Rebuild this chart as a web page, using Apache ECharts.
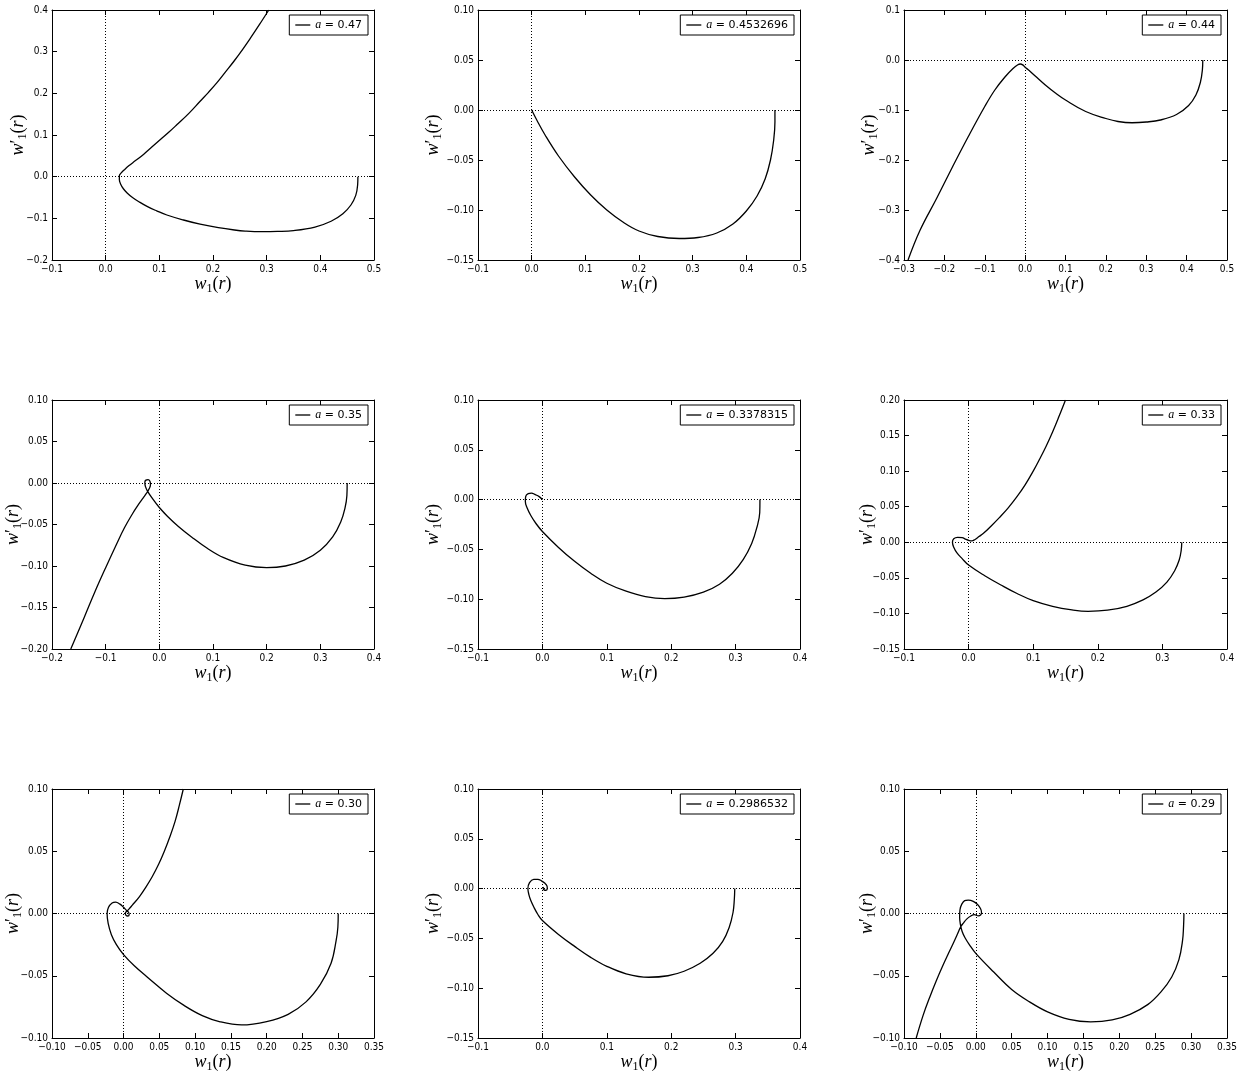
<!DOCTYPE html>
<html>
<head>
<meta charset="utf-8">
<title>w1 phase portraits</title>
<script src="https://cdn.jsdelivr.net/npm/echarts@6/dist/echarts.min.js"></script>
<style>
  html, body { margin: 0; padding: 0; background: #fff; }
  #chart { width: 1239px; height: 1072px; }
</style>
</head>
<body>
<div id="chart"></div>
<script>
// values of a shown in each legend
var aLabels = ['0.47', '0.4532696', '0.44', '0.35', '0.3378315', '0.33', '0.30', '0.2986532', '0.29'];

// axis ranges [min, max, step]
var xRanges = [
    [-0.1, 0.5, 0.1], [-0.1, 0.5, 0.1], [-0.3, 0.5, 0.1],
    [-0.2, 0.4, 0.1], [-0.1, 0.4, 0.1], [-0.1, 0.4, 0.1],
    [-0.1, 0.35, 0.05], [-0.1, 0.4, 0.1], [-0.1, 0.35, 0.05]
];
var yRanges = [
    [-0.2, 0.4, 0.1], [-0.15, 0.1, 0.05], [-0.4, 0.1, 0.1],
    [-0.2, 0.1, 0.05], [-0.15, 0.1, 0.05], [-0.15, 0.2, 0.05],
    [-0.1, 0.1, 0.05], [-0.15, 0.1, 0.05], [-0.1, 0.1, 0.05]
];

// traced curves, points are [w1, w1']
var curve047 = [
    [0.47, 0], [0.4695, -0.02], [0.466, -0.045], [0.457, -0.068], [0.442, -0.089], [0.42, -0.107],
    [0.39, -0.121], [0.35, -0.1295], [0.32, -0.1315], [0.29, -0.132], [0.26, -0.1305], [0.24, -0.128],
    [0.21, -0.1225], [0.176, -0.114], [0.145, -0.104], [0.114, -0.092], [0.095, -0.082], [0.078, -0.072],
    [0.063, -0.061], [0.05, -0.05], [0.04, -0.039], [0.033, -0.029], [0.028, -0.018], [0.0255, -0.007],
    [0.0255, 0.002], [0.029, 0.009], [0.036, 0.018], [0.043, 0.026], [0.055, 0.038], [0.071, 0.054],
    [0.086, 0.071], [0.102, 0.089], [0.118, 0.107], [0.133, 0.125], [0.155, 0.152], [0.176, 0.181],
    [0.192, 0.203], [0.207, 0.225], [0.223, 0.251], [0.239, 0.277], [0.255, 0.305], [0.27, 0.333],
    [0.287, 0.366], [0.304, 0.4]
];
var curve04532696 = [
    [0.4533, 0], [0.4533, -0.012], [0.451, -0.03], [0.445, -0.05], [0.435, -0.069], [0.42, -0.086],
    [0.4, -0.101], [0.375, -0.114], [0.345, -0.123], [0.31, -0.1275], [0.275, -0.1285], [0.235, -0.1265],
    [0.2, -0.121], [0.17, -0.112], [0.14, -0.1], [0.11, -0.085], [0.08, -0.067], [0.05, -0.046],
    [0.025, -0.025], [0.01, -0.0105], [0, 0]
];
var curve044 = [
    [0.44, 0], [0.439, -0.02], [0.434, -0.045], [0.423, -0.07], [0.405, -0.091], [0.375, -0.109],
    [0.335, -0.12], [0.3, -0.124], [0.265, -0.1255], [0.23, -0.123], [0.2, -0.117], [0.15, -0.103],
    [0.1, -0.08], [0.075, -0.066], [0.05, -0.05], [0.025, -0.032], [0.01, -0.021], [0.0, -0.0145],
    [-0.006, -0.0098], [-0.012, -0.008], [-0.018, -0.0095], [-0.03, -0.017], [-0.05, -0.034], [-0.075, -0.06],
    [-0.1, -0.093], [-0.14, -0.152], [-0.18, -0.214], [-0.22, -0.278], [-0.26, -0.34], [-0.29, -0.4]
];
var curve035 = [
    [0.35, 0], [0.3495, -0.015], [0.346, -0.03], [0.338, -0.047], [0.323, -0.065], [0.3, -0.081],
    [0.27, -0.093], [0.235, -0.1], [0.2, -0.102], [0.16, -0.099], [0.12, -0.09], [0.09, -0.079],
    [0.06, -0.065], [0.035, -0.052], [0.015, -0.04], [0.0, -0.0295], [-0.012, -0.0195], [-0.0218, -0.01],
    [-0.026, -0.004], [-0.027, 0.001], [-0.025, 0.0035], [-0.021, 0.004], [-0.0175, 0.002],
    [-0.0165, -0.002], [-0.019, -0.007], [-0.0235, -0.012], [-0.03, -0.018], [-0.04, -0.027], [-0.05, -0.037],
    [-0.065, -0.054], [-0.08, -0.074], [-0.1, -0.102], [-0.12, -0.131], [-0.14, -0.162], [-0.165, -0.2]
];
var curve03378315 = [
    [0.3378, 0], [0.3375, -0.013], [0.333, -0.028], [0.325, -0.044], [0.312, -0.06], [0.295, -0.074],
    [0.275, -0.085], [0.25, -0.093], [0.22, -0.098], [0.19, -0.0995], [0.16, -0.0975], [0.13, -0.092],
    [0.1, -0.084], [0.075, -0.074], [0.05, -0.062], [0.025, -0.048], [0.0, -0.032], [-0.01, -0.024],
    [-0.018, -0.016], [-0.024, -0.008], [-0.0265, -0.002], [-0.026, 0.003], [-0.022, 0.006], [-0.017, 0.0065],
    [-0.011, 0.005], [-0.005, 0.003], [0, 0]
];
var curve033 = [
    [0.33, 0], [0.329, -0.012], [0.326, -0.025], [0.319, -0.04], [0.307, -0.056], [0.29, -0.07],
    [0.27, -0.081], [0.245, -0.09], [0.215, -0.0955], [0.185, -0.097], [0.16, -0.095], [0.13, -0.09],
    [0.1, -0.082], [0.075, -0.072], [0.05, -0.06], [0.025, -0.047], [0.0, -0.032], [-0.01, -0.023],
    [-0.018, -0.015], [-0.023, -0.007], [-0.025, 0.0], [-0.023, 0.005], [-0.017, 0.007], [-0.01, 0.0065],
    [-0.004, 0.004], [0.001, 0.0025], [0.005, 0.002], [0.01, 0.004], [0.016, 0.008], [0.023, 0.0126],
    [0.035, 0.023], [0.048, 0.035], [0.061, 0.048], [0.074, 0.063], [0.087, 0.08], [0.1, 0.1],
    [0.11, 0.117], [0.12, 0.135], [0.13, 0.155], [0.14, 0.177], [0.15, 0.2]
];
var curve030 = [
    [0.3, 0], [0.2995, -0.011], [0.297, -0.022], [0.29, -0.04], [0.275, -0.057], [0.255, -0.071],
    [0.23, -0.081], [0.2, -0.0868], [0.165, -0.0895], [0.135, -0.087], [0.11, -0.082], [0.085, -0.074],
    [0.06, -0.064], [0.035, -0.052], [0.015, -0.042], [0.0, -0.033], [-0.01, -0.025], [-0.017, -0.017],
    [-0.0215, -0.008], [-0.023, 0.0], [-0.021, 0.005], [-0.016, 0.0085], [-0.011, 0.0092], [-0.005, 0.0075],
    [0.0, 0.005], [0.004, 0.0025], [0.007, 0.001], [0.0078, -0.001], [0.0058, -0.002], [0.0035, -0.0015],
    [0.0025, 0.0003], [0.0045, 0.0018], [0.0075, 0.0035], [0.012, 0.0065], [0.022, 0.0134], [0.031, 0.021],
    [0.04, 0.0295], [0.049, 0.0395], [0.057, 0.05], [0.065, 0.062], [0.072, 0.074], [0.078, 0.087],
    [0.0835, 0.1]
];
var curve02986532 = [
    [0.2987, 0], [0.298, -0.011], [0.296, -0.024], [0.29, -0.039], [0.28, -0.053], [0.265, -0.065],
    [0.245, -0.075], [0.22, -0.083], [0.195, -0.0875], [0.165, -0.089], [0.13, -0.0855], [0.1, -0.078],
    [0.075, -0.069], [0.05, -0.058], [0.025, -0.046], [0.0, -0.032], [-0.007, -0.026], [-0.013, -0.019],
    [-0.018, -0.012], [-0.021, -0.006], [-0.0225, 0.0], [-0.02, 0.006], [-0.0135, 0.0093], [-0.007, 0.0093],
    [-0.0015, 0.0078], [0.004, 0.0053], [0.0072, 0.0025], [0.0076, 0.0], [0.0056, -0.0017], [0.0025, -0.0013],
    [0.0012, 0.0003], [0.002, 0.0015]
];
var curve029 = [
    [0.29, 0], [0.2895, -0.01], [0.288, -0.022], [0.283, -0.037], [0.273, -0.051], [0.258, -0.063],
    [0.24, -0.073], [0.215, -0.081], [0.19, -0.0855], [0.16, -0.087], [0.13, -0.085], [0.1, -0.079],
    [0.075, -0.071], [0.05, -0.061], [0.025, -0.047], [0.0, -0.032], [-0.009, -0.025], [-0.015, -0.0195],
    [-0.019, -0.0145], [-0.0215, -0.0085], [-0.0225, -0.003], [-0.022, 0.003], [-0.0195, 0.0075], [-0.0155, 0.0103],
    [-0.0105, 0.0108], [-0.0035, 0.0098], [0.0025, 0.0072], [0.0065, 0.004], [0.008, 0.001], [0.007, -0.001],
    [0.0035, -0.0019], [-0.002, -0.0009], [-0.007, -0.002], [-0.0127, -0.0045], [-0.017, -0.0075], [-0.021, -0.0106],
    [-0.0255, -0.0165], [-0.031, -0.0235], [-0.038, -0.032], [-0.046, -0.042], [-0.055, -0.054], [-0.064, -0.067],
    [-0.0735, -0.082], [-0.083, -0.1]
];

var curves = [curve047, curve04532696, curve044, curve035, curve03378315, curve033, curve030, curve02986532, curve029];

// plot boxes [left, top, width, height] and where the y title sits
var boxes = [
    [52, 10, 322, 250], [478, 10, 322, 250], [904, 10, 323, 250],
    [52, 400, 322, 249], [478, 400, 322, 249], [904, 400, 323, 249],
    [52, 789, 322, 249], [478, 789, 322, 249], [904, 789, 323, 249]
];
var yNameX = [18, 433, 869, 13, 433, 867, 13, 433, 867];

var W = 1239;
var serif = 'Liberation Serif';
var sans = '"DejaVu Sans Condensed", "Liberation Sans Narrow", "DejaVu Sans"';

function decimals(step) {
    return step < 0.1 - 1e-9 ? 2 : 1;
}
function fmt(d) {
    return function (v) {
        var s = v.toFixed(d);
        if (Math.abs(parseFloat(s)) === 0) s = (0).toFixed(d);
        return s.replace('-', '\u2212');
    };
}

var nameRich = {
    it: { fontFamily: serif, fontStyle: 'italic', fontSize: 18, lineHeight: 22, color: '#000' },
    n: { fontFamily: serif, fontSize: 18, lineHeight: 22, color: '#000' },
    sub: { fontFamily: serif, fontSize: 12, lineHeight: 22, verticalAlign: 'bottom', color: '#000' }
};

var grids = [], xAxes = [], yAxes = [], series = [], legends = [];
var topX = [], rightY = [];

boxes.forEach(function (b, i) {
    var xr = xRanges[i], yr = yRanges[i];
    grids.push({ left: b[0], top: b[1], width: b[2], height: b[3], containLabel: false, outerBoundsMode: 'none' });

    var common = {
        type: 'value',
        gridIndex: i,
        splitLine: { show: false },
        axisLine: { show: true, onZero: false, lineStyle: { color: '#000', width: 1 } },
        axisTick: { show: true, inside: true, length: 5, lineStyle: { color: '#000' } }
    };

    xAxes.push(Object.assign({}, common, {
        position: 'bottom',
        min: xr[0], max: xr[1], interval: xr[2],
        axisLabel: { color: '#000', fontFamily: sans, fontSize: 10, margin: 4, formatter: fmt(decimals(xr[2])) },
        name: '{it|w}{sub|1}{n|(}{it|r}{n|)}',
        nameLocation: 'middle',
        nameGap: 13,
        nameMoveOverlap: false,
        nameTextStyle: { rich: nameRich, verticalAlign: 'top' }
    }));
    topX.push(Object.assign({}, common, {
        position: 'top',
        min: xr[0], max: xr[1], interval: xr[2],
        axisLabel: { show: false }
    }));

    yAxes.push(Object.assign({}, common, {
        position: 'left',
        min: yr[0], max: yr[1], interval: yr[2],
        axisLabel: { color: '#000', fontFamily: sans, fontSize: 10, margin: 4, formatter: fmt(decimals(yr[2])) },
        name: '{it|w}{n|\u2032}{sub|1}{n|(}{it|r}{n|)}',
        nameLocation: 'middle',
        nameRotate: 90,
        nameGap: b[0] - yNameX[i] - 11,
        nameMoveOverlap: false,
        nameTextStyle: { rich: nameRich }
    }));
    rightY.push(Object.assign({}, common, {
        position: 'right',
        min: yr[0], max: yr[1], interval: yr[2],
        axisLabel: { show: false }
    }));

    var sname = 'a = ' + aLabels[i];
    series.push({
        name: sname,
        type: 'line',
        xAxisIndex: i,
        yAxisIndex: i,
        data: curves[i],
        showSymbol: false,
        symbol: 'none',
        smooth: 0.4,
        lineStyle: { color: '#000', width: 1.3 },
        itemStyle: { color: '#000' },
        markLine: {
            silent: true,
            symbol: ['none', 'none'],
            label: { show: false },
            lineStyle: { type: [1, 2], color: '#000', width: 1 },
            data: [{ xAxis: 0 }, { yAxis: 0 }]
        }
    });

    legends.push({
        data: [sname],
        right: W - (b[0] + b[2] - 6),
        top: b[1] + 5,
        orient: 'vertical',
        backgroundColor: '#fff',
        borderColor: '#000',
        borderWidth: 1,
        borderRadius: 0,
        padding: [4, 6, 4, 6],
        icon: 'rect',
        itemWidth: 15,
        itemHeight: 1.3,
        itemStyle: { color: '#000' },
        textStyle: {
            color: '#000',
            fontFamily: 'DejaVu Sans',
            fontSize: 11,
            rich: {
                i: { fontFamily: serif, fontStyle: 'italic', fontSize: 12, color: '#000' },
                t: { fontFamily: 'DejaVu Sans', fontSize: 11, color: '#000' }
            }
        },
        formatter: function (name) {
            return '{i|a}{t| = ' + name.slice(4) + '}';
        }
    });
});

var chart = echarts.init(document.getElementById('chart'));
chart.setOption({
    animation: false,
    backgroundColor: '#fff',
    grid: grids,
    xAxis: xAxes.concat(topX),
    yAxis: yAxes.concat(rightY),
    legend: legends,
    series: series
});
</script>
</body>
</html>
